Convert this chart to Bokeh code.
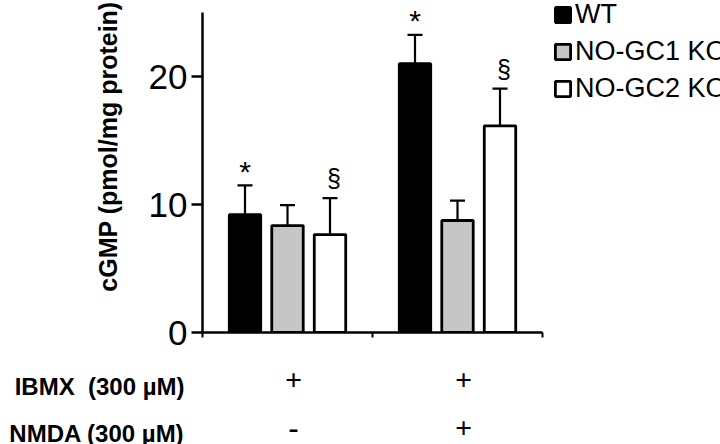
import numpy as np
from bokeh.plotting import figure
from bokeh.layouts import column, row
from bokeh.models import (ColumnDataSource, Range1d, FixedTicker, Legend, LegendItem,
                          Whisker, TeeHead, Label, LabelSet)
from bokeh.core.properties import value
from bokeh.embed import file_html
from bokeh.resources import INLINE

# ---- data ----
conditions = ["IBMX", "IBMX + NMDA"]
genotypes = ["WT", "NO-GC1 KO", "NO-GC2 KO"]
wt_mean = [9.2, 21.0]
wt_sem = [2.3, 2.25]
gc1_mean = [8.35, 8.75]
gc1_sem = [1.6, 1.55]
gc2_mean = [7.65, 16.15]
gc2_sem = [2.85, 2.9]
wt_marks = ["*", "*"]
gc2_marks = ["§", "§"]
ibmx_row = ["+", "+"]
nmda_row = ["-", "+"]
row_titles = ["IBMX\u00a0 (300 µM)", "NMDA (300 µM)"]
y_ticks = [0, 10, 20]
y_max = 25
y_label = "cGMP (pmol/mg protein)"

# ---- layout / style ----
FONT = "Liberation Sans"
PX_X = 170.0   # px per x unit
PX_Y = 12.8    # px per y unit
TOTAL_W, TOTAL_H = 720, 444
TOP_H = 356            # height of the upper row
TITLE_W = 130          # width of the y-title strip
AXIS_X = 202           # page x of the y axis
ZERO_Y = 332           # page y of value 0
TITLE_CY = 170         # page y of the y-title centre
MAIN_W = TOTAL_W - TITLE_W
LEFT = AXIS_X - TITLE_W
BOTTOM = TOP_H - ZERO_Y

cond_x = np.arange(1, len(conditions) + 1, dtype=float)
offsets = [-0.25, 0.0, 0.25]
bar_w = 0.185
fills = ["black", "#c6c6c6", "white"]
means = [wt_mean, gc1_mean, gc2_mean]
sems = [wt_sem, gc1_sem, gc2_sem]
x0 = 0.5

def blank(width, height, **kw):
    f = figure(width=width, height=height, output_backend="svg",
               toolbar_location=None, x_axis_location=None, y_axis_location=None,
               min_border=0, **kw)
    f.outline_line_color = None
    f.grid.visible = False
    f.background_fill_color = "white"
    f.border_fill_color = "white"
    return f

# ---- y title strip ----
pt = blank(TITLE_W, TOP_H, x_range=Range1d(0, 1), y_range=Range1d(0, 1))
pt.add_layout(Label(x=107, y=TOP_H - TITLE_CY, x_units="screen", y_units="screen",
                    text=y_label, angle=np.pi / 2, text_align="center",
                    text_baseline="middle", text_font=FONT, text_font_size="25px",
                    text_font_style="bold", text_color="black"))

# ---- main plot ----
frame_w = MAIN_W - LEFT
p = figure(width=MAIN_W, height=TOP_H, output_backend="svg", toolbar_location=None,
           x_range=Range1d(x0, x0 + frame_w / PX_X),
           y_range=Range1d(0, ZERO_Y / PX_Y),
           min_border_left=LEFT, min_border_right=0, min_border_top=0,
           min_border_bottom=BOTTOM)
p.outline_line_color = None
p.xgrid.visible = False
p.ygrid.visible = False
p.background_fill_color = "white"
p.border_fill_color = "white"

renderers = []
for i, g in enumerate(genotypes):
    xs = cond_x + offsets[i]
    top = np.array(means[i])
    src = ColumnDataSource(dict(x=xs, top=top, up=top + np.array(sems[i])))
    r = p.vbar(x="x", top="top", width=bar_w, bottom=0, source=src,
               fill_color=fills[i], line_color="black", line_width=2.8)
    renderers.append(r)
    wh = Whisker(base="x", lower="top", upper="up", source=src, dimension="height",
                 lower_head=None,
                 upper_head=TeeHead(size=15, line_width=2.2, line_color="black"),
                 line_width=2.2, line_color="black")
    p.add_layout(wh)
    if i == 0:
        msrc = ColumnDataSource(dict(x=xs, y=top + np.array(sems[i]), t=wt_marks))
        p.text(x="x", y="y", text="t", source=msrc, text_align="center",
               text_baseline="alphabetic", text_font=value(FONT),
               text_font_size="30px", text_color="black", y_offset=-14)
    if i == 2:
        msrc = ColumnDataSource(dict(x=xs, y=top + np.array(sems[i]), t=gc2_marks))
        p.text(x="x", y="y", text="t", source=msrc, text_align="center",
               text_baseline="alphabetic", text_font=value(FONT),
               text_font_size="25px", text_color="black", x_offset=4, y_offset=-20)

ya = p.yaxis[0]
ya.ticker = FixedTicker(ticks=y_ticks)
ya.bounds = (0, y_max)
ya.axis_line_width = 2.5
ya.major_tick_line_width = 2.5
ya.major_tick_out = 11
ya.major_tick_in = 0
ya.minor_tick_line_color = None
ya.major_label_text_font = FONT
ya.major_label_text_font_size = "35px"
ya.major_label_text_color = "black"
ya.major_label_standoff = 4

xa = p.xaxis[0]
x_ticks = [i + 0.5 for i in range(len(conditions) + 1)]
xa.ticker = FixedTicker(ticks=x_ticks)
xa.bounds = (x_ticks[0], x_ticks[-1])
xa.axis_line_width = 2.5
xa.major_tick_line_width = 2
xa.major_tick_out = 5
xa.major_tick_in = 0
xa.minor_tick_line_color = None
xa.major_label_overrides = {t: "" for t in x_ticks}
xa.major_label_text_font_size = "0px"
xa.major_label_standoff = 0

legend = Legend(items=[LegendItem(label=g, renderers=[renderers[i]])
                       for i, g in enumerate(genotypes)],
                location=(351, 228), orientation="vertical",
                glyph_width=19, glyph_height=19, label_height=19,
                label_standoff=3, spacing=6, padding=0, margin=0,
                border_line_color=None, background_fill_alpha=0,
                label_text_font=FONT, label_text_font_size="27px",
                label_text_color="black")
p.add_layout(legend)

# ---- condition rows below ----
BOT_H = TOTAL_H - TOP_H
pb = blank(TOTAL_W, BOT_H,
           x_range=Range1d(x0 - AXIS_X / PX_X, x0 + (TOTAL_W - AXIS_X) / PX_X),
           y_range=Range1d(0, 1))
sym_y = [TOTAL_H - 380, TOTAL_H - 428]
title_y = [TOTAL_H - 386, TOTAL_H - 433]
for k, rw in enumerate([ibmx_row, nmda_row]):
    src = ColumnDataSource(dict(x=cond_x, t=rw))
    pb.add_layout(LabelSet(x="x", y=sym_y[k], y_units="screen", text="t", source=src,
                           x_offset=6, text_align="center", text_baseline="middle",
                           text_font=FONT, text_font_size="30px",
                           text_font_style="bold", text_color="black"))
    pb.add_layout(Label(x=184, y=title_y[k], x_units="screen", y_units="screen",
                        text=row_titles[k], text_align="right",
                        text_baseline="middle", text_font=FONT,
                        text_font_size="24px", text_font_style="bold",
                        text_color="black"))

layout = column(row(pt, p, spacing=0), pb, spacing=0)
open("out.html", "w").write(file_html(layout, INLINE))
